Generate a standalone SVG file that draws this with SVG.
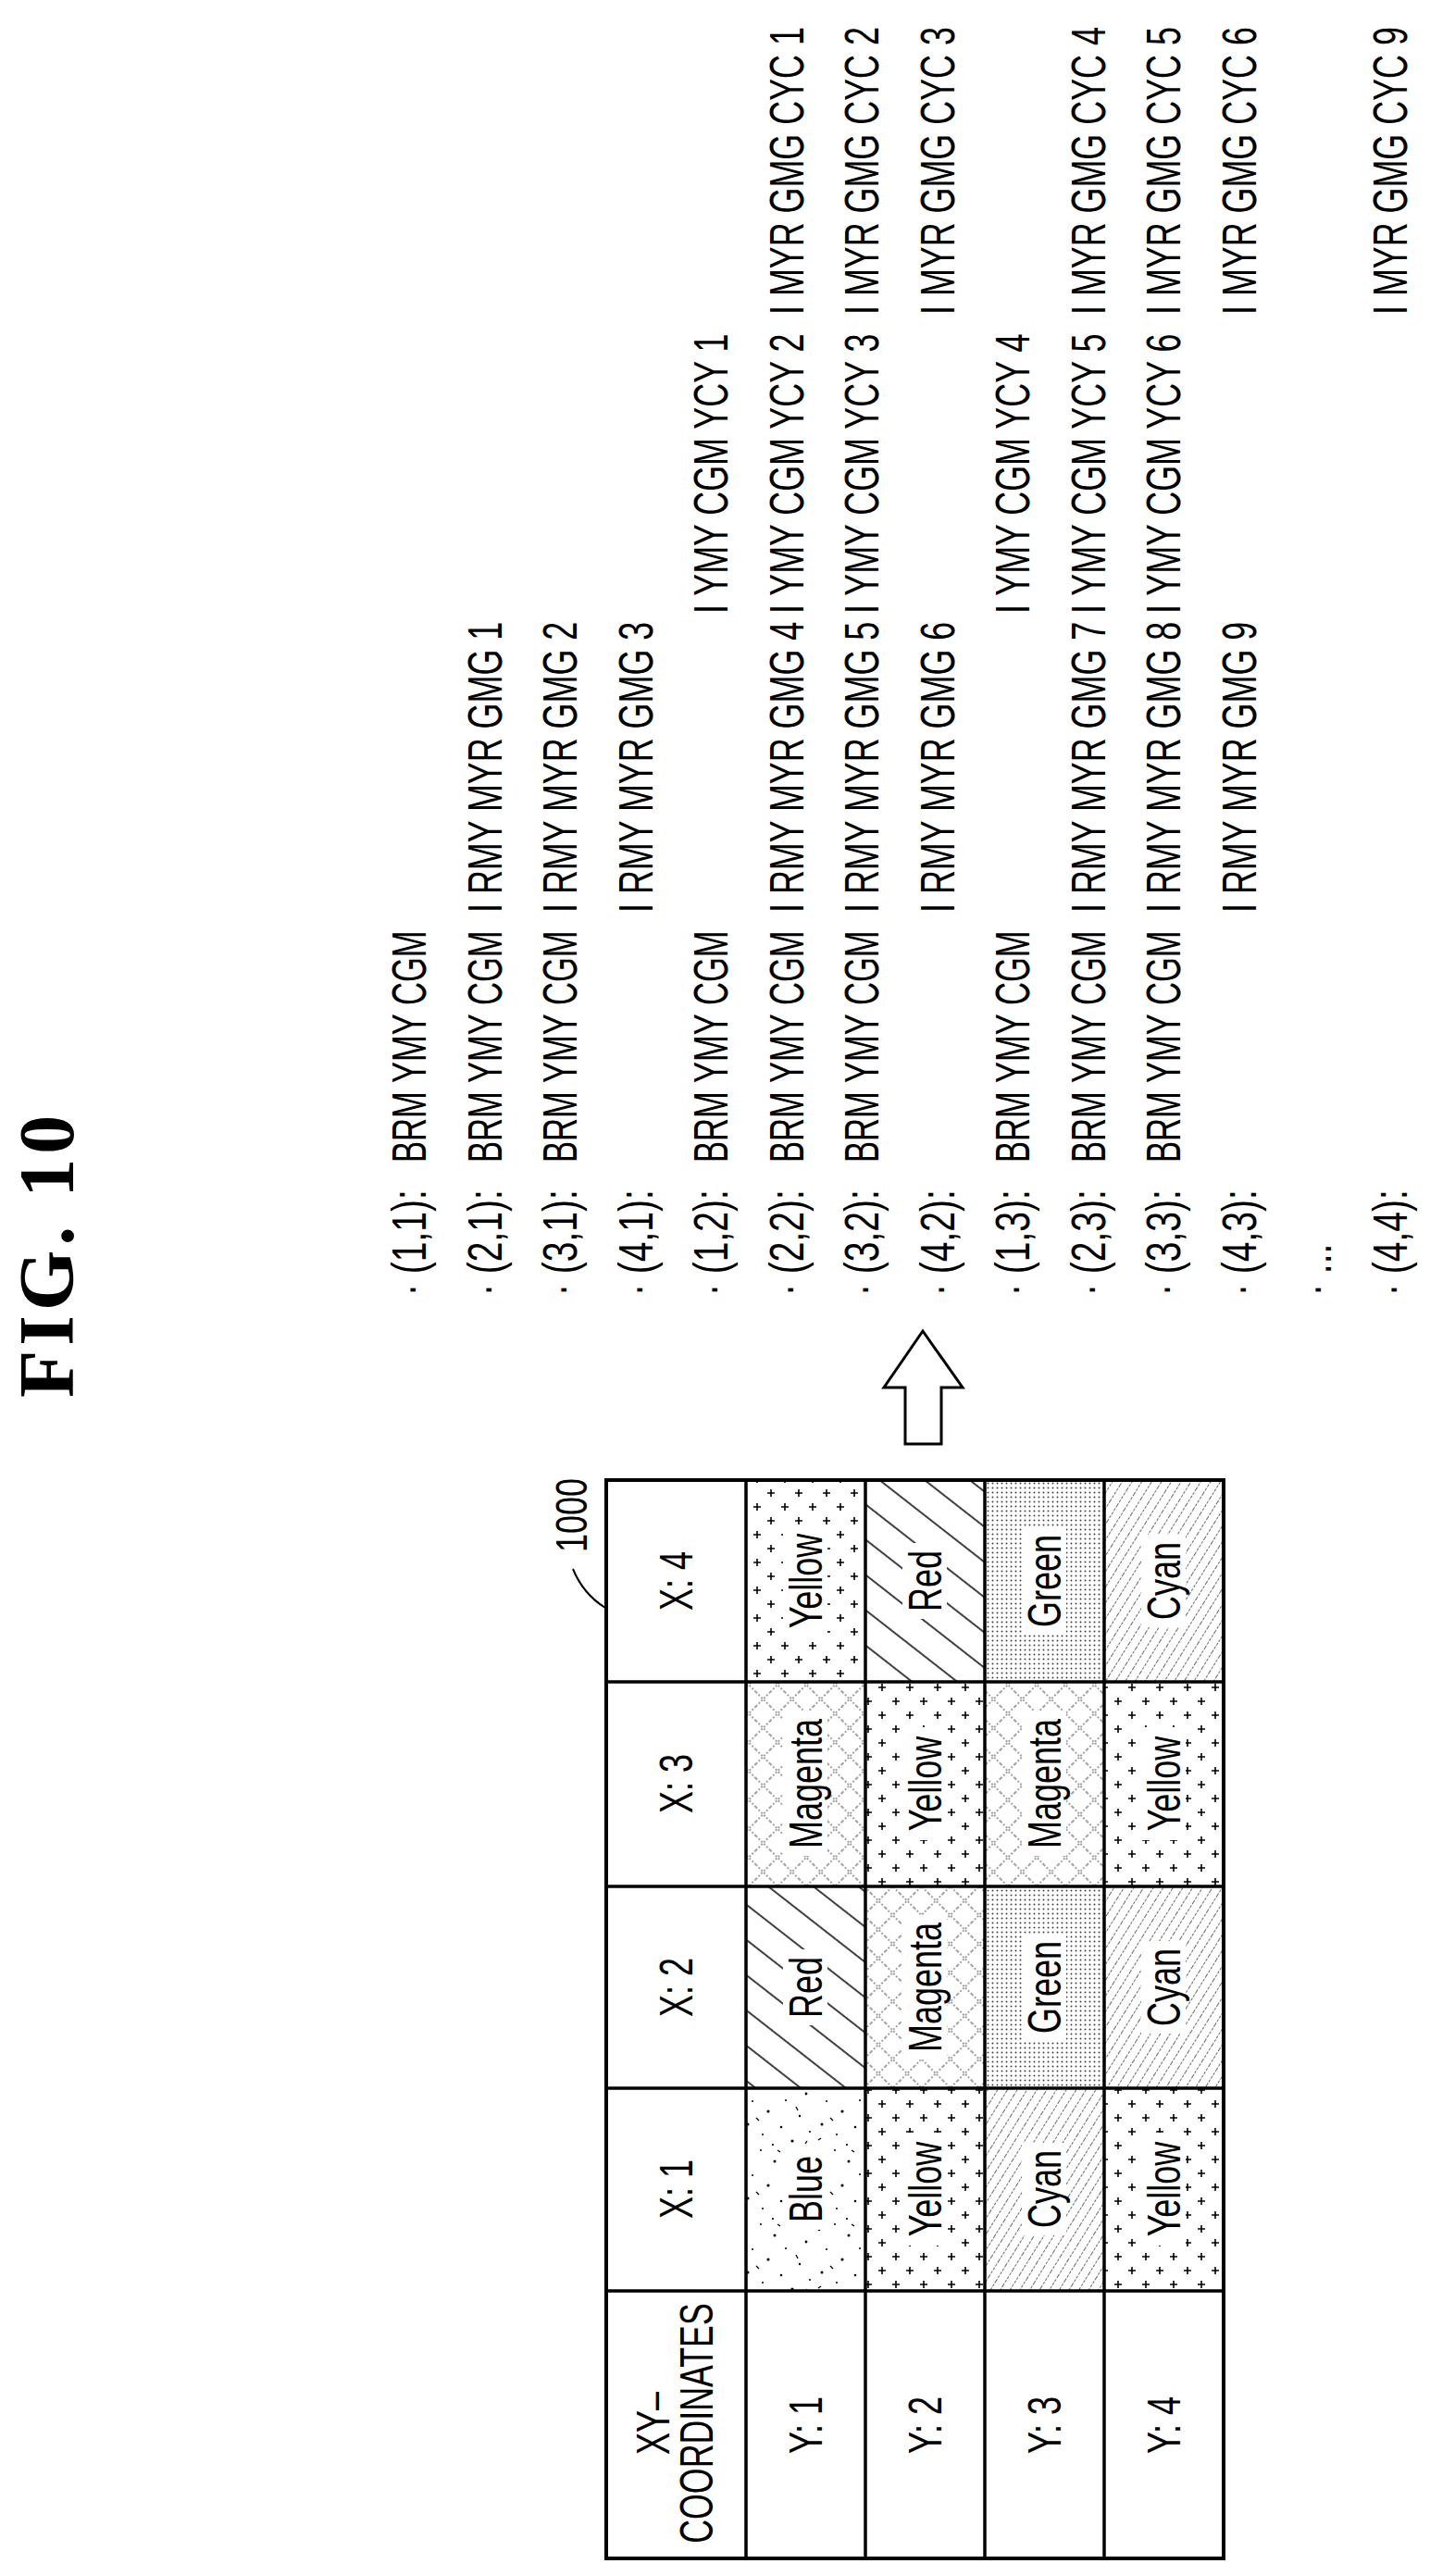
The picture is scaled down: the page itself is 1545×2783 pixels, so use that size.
<svg xmlns="http://www.w3.org/2000/svg" width="1545" height="2783" viewBox="0 0 1545 2783">
<style>
.t{font-family:"Liberation Sans",Arial,sans-serif;font-size:52px;fill:#000}
.c{font-family:"Liberation Sans",Arial,sans-serif;font-size:50px;fill:#000;text-anchor:middle}
.title{font-family:"Liberation Serif","Times New Roman",serif;font-size:84px;font-weight:bold;fill:#000;letter-spacing:5px}
.grid{fill:none;stroke:#000;stroke-width:3.5}
.box{fill:#fff}
</style>
<defs>
<pattern id="pRed" patternUnits="userSpaceOnUse" width="40" height="30" patternTransform="rotate(38)"><rect width="40" height="30" fill="#fff"/><line x1="0" y1="15" x2="40" y2="15" stroke="#000" stroke-width="1.6"/></pattern>
<pattern id="pCyan" patternUnits="userSpaceOnUse" width="20" height="9" patternTransform="rotate(-58)"><rect width="20" height="9" fill="#fff"/><line x1="0" y1="4.5" x2="20" y2="4.5" stroke="#666" stroke-width="1" stroke-dasharray="3 1.5"/></pattern>
<pattern id="pMag" patternUnits="userSpaceOnUse" width="22" height="22" patternTransform="rotate(45)"><rect width="22" height="22" fill="#fff"/><line x1="0" y1="11" x2="22" y2="11" stroke="#444" stroke-width="1" stroke-dasharray="2 2"/><line x1="11" y1="0" x2="11" y2="22" stroke="#444" stroke-width="1" stroke-dasharray="2 2"/></pattern>
<pattern id="pGreen" patternUnits="userSpaceOnUse" width="5" height="5"><rect width="5" height="5" fill="#fff"/><circle cx="2.5" cy="2.5" r="1" fill="#444"/></pattern>
<pattern id="pYel" patternUnits="userSpaceOnUse" width="30" height="30"><rect width="30" height="30" fill="#fff"/><path d="M8 4v8M4 8h8M23 19v8M19 23h8" stroke="#000" stroke-width="1.6"/></pattern>
<pattern id="pBlue" patternUnits="userSpaceOnUse" width="80" height="80"><rect width="80" height="80" fill="#fff"/><g fill="#000"><circle cx="5" cy="9" r="1.3"/><circle cx="22" cy="3" r="1"/><circle cx="37" cy="15" r="1.5"/><circle cx="58" cy="6" r="1.1"/><circle cx="71" cy="22" r="1.4"/><circle cx="13" cy="30" r="1"/><circle cx="30" cy="41" r="1.6"/><circle cx="49" cy="29" r="1"/><circle cx="64" cy="46" r="1.2"/><circle cx="8" cy="55" r="1.5"/><circle cx="24" cy="66" r="1"/><circle cx="44" cy="58" r="1.3"/><circle cx="56" cy="73" r="1.6"/><circle cx="75" cy="63" r="1"/><circle cx="35" cy="77" r="1.1"/><path d="M17 48l3 3M60 36l2 4M40 3l3 2M70 76l2-3M4 72l3-2" stroke="#000" stroke-width="1.3"/></g></pattern>
</defs>
<rect width="1545" height="2783" fill="#fff"/>

<g id="title"><text class="title" transform="translate(79 1510) rotate(-90)">FIG. 10</text></g>

<g id="ref-1000"><text class="t" style="font-size:48px" transform="translate(634 1677) rotate(-90) scale(0.75 1)">1000</text></g>

<g id="connectors">
<path d="M619 1695 Q630 1722 654 1737" fill="none" stroke="#000" stroke-width="2"/>
<polygon points="997,1438 1040,1499 1017,1499 1017,1560 978,1560 978,1499 955,1499" fill="#fff" stroke="#000" stroke-width="3"/>
</g>

<g id="table-1000">
<g id="cells">
<rect x="806" y="2256" width="129" height="219" fill="url(#pBlue)"/>
<rect x="806" y="2038" width="129" height="218" fill="url(#pRed)"/>
<rect x="806" y="1817" width="129" height="221" fill="url(#pMag)"/>
<rect x="806" y="1599" width="129" height="218" fill="url(#pYel)"/>
<rect x="935" y="2256" width="129" height="219" fill="url(#pYel)"/>
<rect x="935" y="2038" width="129" height="218" fill="url(#pMag)"/>
<rect x="935" y="1817" width="129" height="221" fill="url(#pYel)"/>
<rect x="935" y="1599" width="129" height="218" fill="url(#pRed)"/>
<rect x="1064" y="2256" width="129" height="219" fill="url(#pCyan)"/>
<rect x="1064" y="2038" width="129" height="218" fill="url(#pGreen)"/>
<rect x="1064" y="1817" width="129" height="221" fill="url(#pMag)"/>
<rect x="1064" y="1599" width="129" height="218" fill="url(#pGreen)"/>
<rect x="1193" y="2256" width="129" height="219" fill="url(#pYel)"/>
<rect x="1193" y="2038" width="129" height="218" fill="url(#pCyan)"/>
<rect x="1193" y="1817" width="129" height="221" fill="url(#pYel)"/>
<rect x="1193" y="1599" width="129" height="218" fill="url(#pCyan)"/>
</g>
<g id="label-boxes">
<rect class="box" x="846" y="2321" width="48" height="88"/>
<rect class="box" x="846" y="2106" width="48" height="82"/>
<rect class="box" x="846" y="1849" width="48" height="156"/>
<rect class="box" x="846" y="1647" width="48" height="122"/>
<rect class="box" x="975" y="2304" width="48" height="122"/>
<rect class="box" x="975" y="2069" width="48" height="156"/>
<rect class="box" x="975" y="1866" width="48" height="122"/>
<rect class="box" x="975" y="1667" width="48" height="82"/>
<rect class="box" x="1104" y="2315" width="48" height="100"/>
<rect class="box" x="1104" y="2089" width="48" height="116"/>
<rect class="box" x="1104" y="1849" width="48" height="156"/>
<rect class="box" x="1104" y="1650" width="48" height="116"/>
<rect class="box" x="1233" y="2304" width="48" height="122"/>
<rect class="box" x="1233" y="2097" width="48" height="100"/>
<rect class="box" x="1233" y="1866" width="48" height="122"/>
<rect class="box" x="1233" y="1658" width="48" height="100"/>
</g>
<g id="grid">
<rect class="grid" x="655" y="1599" width="667" height="1165" style="stroke-width:4"/>
<path class="grid" d="M806 1599V2764M935 1599V2764M1064 1599V2764M1193 1599V2764M655 1817H1322M655 2038H1322M655 2256H1322M655 2475H1322"/>
</g>
<g id="headers">
<text class="c" transform="translate(723 2618) rotate(-90) scale(0.72 1)">XY–</text>
<text class="c" transform="translate(770 2618) rotate(-90) scale(0.715 1)">COORDINATES</text>
<text class="c" transform="translate(748 2365) rotate(-90) scale(0.72 1)">X: 1</text>
<text class="c" transform="translate(748 2147) rotate(-90) scale(0.72 1)">X: 2</text>
<text class="c" transform="translate(748 1927) rotate(-90) scale(0.72 1)">X: 3</text>
<text class="c" transform="translate(748 1708) rotate(-90) scale(0.72 1)">X: 4</text>
<text class="c" transform="translate(888 2620) rotate(-90) scale(0.72 1)">Y: 1</text>
<text class="c" transform="translate(1017 2620) rotate(-90) scale(0.72 1)">Y: 2</text>
<text class="c" transform="translate(1146 2620) rotate(-90) scale(0.72 1)">Y: 3</text>
<text class="c" transform="translate(1275 2620) rotate(-90) scale(0.72 1)">Y: 4</text>
</g>
<g id="cell-labels">
<text class="c" transform="translate(888 2365) rotate(-90) scale(0.72 1)">Blue</text>
<text class="c" transform="translate(888 2147) rotate(-90) scale(0.72 1)">Red</text>
<text class="c" transform="translate(888 1927) rotate(-90) scale(0.72 1)">Magenta</text>
<text class="c" transform="translate(888 1708) rotate(-90) scale(0.72 1)">Yellow</text>
<text class="c" transform="translate(1017 2365) rotate(-90) scale(0.72 1)">Yellow</text>
<text class="c" transform="translate(1017 2147) rotate(-90) scale(0.72 1)">Magenta</text>
<text class="c" transform="translate(1017 1927) rotate(-90) scale(0.72 1)">Yellow</text>
<text class="c" transform="translate(1017 1708) rotate(-90) scale(0.72 1)">Red</text>
<text class="c" transform="translate(1146 2365) rotate(-90) scale(0.72 1)">Cyan</text>
<text class="c" transform="translate(1146 2147) rotate(-90) scale(0.72 1)">Green</text>
<text class="c" transform="translate(1146 1927) rotate(-90) scale(0.72 1)">Magenta</text>
<text class="c" transform="translate(1146 1708) rotate(-90) scale(0.72 1)">Green</text>
<text class="c" transform="translate(1275 2365) rotate(-90) scale(0.72 1)">Yellow</text>
<text class="c" transform="translate(1275 2147) rotate(-90) scale(0.72 1)">Cyan</text>
<text class="c" transform="translate(1275 1927) rotate(-90) scale(0.72 1)">Yellow</text>
<text class="c" transform="translate(1275 1708) rotate(-90) scale(0.72 1)">Cyan</text>
</g>
</g>

<g id="sequence-list">
<g id="line-1-1"><text class="t" transform="translate(460 1400) rotate(-90) scale(0.75 1)">· (1,1):</text><text class="t" transform="translate(460 1256) rotate(-90) scale(0.666 1)">BRM YMY CGM</text></g>
<g id="line-2-1"><text class="t" transform="translate(541.5 1400) rotate(-90) scale(0.75 1)">· (2,1):</text><text class="t" transform="translate(541.5 1256) rotate(-90) scale(0.666 1)">BRM YMY CGM</text><text class="t" transform="translate(541.5 986) rotate(-90) scale(0.69 1)">I RMY MYR GMG 1</text></g>
<g id="line-3-1"><text class="t" transform="translate(623 1400) rotate(-90) scale(0.75 1)">· (3,1):</text><text class="t" transform="translate(623 1256) rotate(-90) scale(0.666 1)">BRM YMY CGM</text><text class="t" transform="translate(623 986) rotate(-90) scale(0.69 1)">I RMY MYR GMG 2</text></g>
<g id="line-4-1"><text class="t" transform="translate(704.5 1400) rotate(-90) scale(0.75 1)">· (4,1):</text><text class="t" transform="translate(704.5 986) rotate(-90) scale(0.69 1)">I RMY MYR GMG 3</text></g>
<g id="line-1-2"><text class="t" transform="translate(786 1400) rotate(-90) scale(0.75 1)">· (1,2):</text><text class="t" transform="translate(786 1256) rotate(-90) scale(0.666 1)">BRM YMY CGM</text><text class="t" transform="translate(786 663) rotate(-90) scale(0.69 1)">I YMY CGM YCY 1</text></g>
<g id="line-2-2"><text class="t" transform="translate(867.5 1400) rotate(-90) scale(0.75 1)">· (2,2):</text><text class="t" transform="translate(867.5 1256) rotate(-90) scale(0.666 1)">BRM YMY CGM</text><text class="t" transform="translate(867.5 986) rotate(-90) scale(0.69 1)">I RMY MYR GMG 4</text><text class="t" transform="translate(867.5 663) rotate(-90) scale(0.69 1)">I YMY CGM YCY 2</text><text class="t" transform="translate(867.5 340) rotate(-90) scale(0.69 1)">I MYR GMG CYC 1</text></g>
<g id="line-3-2"><text class="t" transform="translate(949 1400) rotate(-90) scale(0.75 1)">· (3,2):</text><text class="t" transform="translate(949 1256) rotate(-90) scale(0.666 1)">BRM YMY CGM</text><text class="t" transform="translate(949 986) rotate(-90) scale(0.69 1)">I RMY MYR GMG 5</text><text class="t" transform="translate(949 663) rotate(-90) scale(0.69 1)">I YMY CGM YCY 3</text><text class="t" transform="translate(949 340) rotate(-90) scale(0.69 1)">I MYR GMG CYC 2</text></g>
<g id="line-4-2"><text class="t" transform="translate(1030.5 1400) rotate(-90) scale(0.75 1)">· (4,2):</text><text class="t" transform="translate(1030.5 986) rotate(-90) scale(0.69 1)">I RMY MYR GMG 6</text><text class="t" transform="translate(1030.5 340) rotate(-90) scale(0.69 1)">I MYR GMG CYC 3</text></g>
<g id="line-1-3"><text class="t" transform="translate(1112 1400) rotate(-90) scale(0.75 1)">· (1,3):</text><text class="t" transform="translate(1112 1256) rotate(-90) scale(0.666 1)">BRM YMY CGM</text><text class="t" transform="translate(1112 663) rotate(-90) scale(0.69 1)">I YMY CGM YCY 4</text></g>
<g id="line-2-3"><text class="t" transform="translate(1193.5 1400) rotate(-90) scale(0.75 1)">· (2,3):</text><text class="t" transform="translate(1193.5 1256) rotate(-90) scale(0.666 1)">BRM YMY CGM</text><text class="t" transform="translate(1193.5 986) rotate(-90) scale(0.69 1)">I RMY MYR GMG 7</text><text class="t" transform="translate(1193.5 663) rotate(-90) scale(0.69 1)">I YMY CGM YCY 5</text><text class="t" transform="translate(1193.5 340) rotate(-90) scale(0.69 1)">I MYR GMG CYC 4</text></g>
<g id="line-3-3"><text class="t" transform="translate(1275 1400) rotate(-90) scale(0.75 1)">· (3,3):</text><text class="t" transform="translate(1275 1256) rotate(-90) scale(0.666 1)">BRM YMY CGM</text><text class="t" transform="translate(1275 986) rotate(-90) scale(0.69 1)">I RMY MYR GMG 8</text><text class="t" transform="translate(1275 663) rotate(-90) scale(0.69 1)">I YMY CGM YCY 6</text><text class="t" transform="translate(1275 340) rotate(-90) scale(0.69 1)">I MYR GMG CYC 5</text></g>
<g id="line-4-3"><text class="t" transform="translate(1356.5 1400) rotate(-90) scale(0.75 1)">· (4,3):</text><text class="t" transform="translate(1356.5 986) rotate(-90) scale(0.69 1)">I RMY MYR GMG 9</text><text class="t" transform="translate(1356.5 340) rotate(-90) scale(0.69 1)">I MYR GMG CYC 6</text></g>
<g id="line-dots"><text class="t" transform="translate(1438 1400) rotate(-90) scale(0.75 1)">· ...</text></g>
<g id="line-4-4"><text class="t" transform="translate(1519.5 1400) rotate(-90) scale(0.75 1)">· (4,4):</text><text class="t" transform="translate(1519.5 340) rotate(-90) scale(0.69 1)">I MYR GMG CYC 9</text></g>
</g>
</svg>
